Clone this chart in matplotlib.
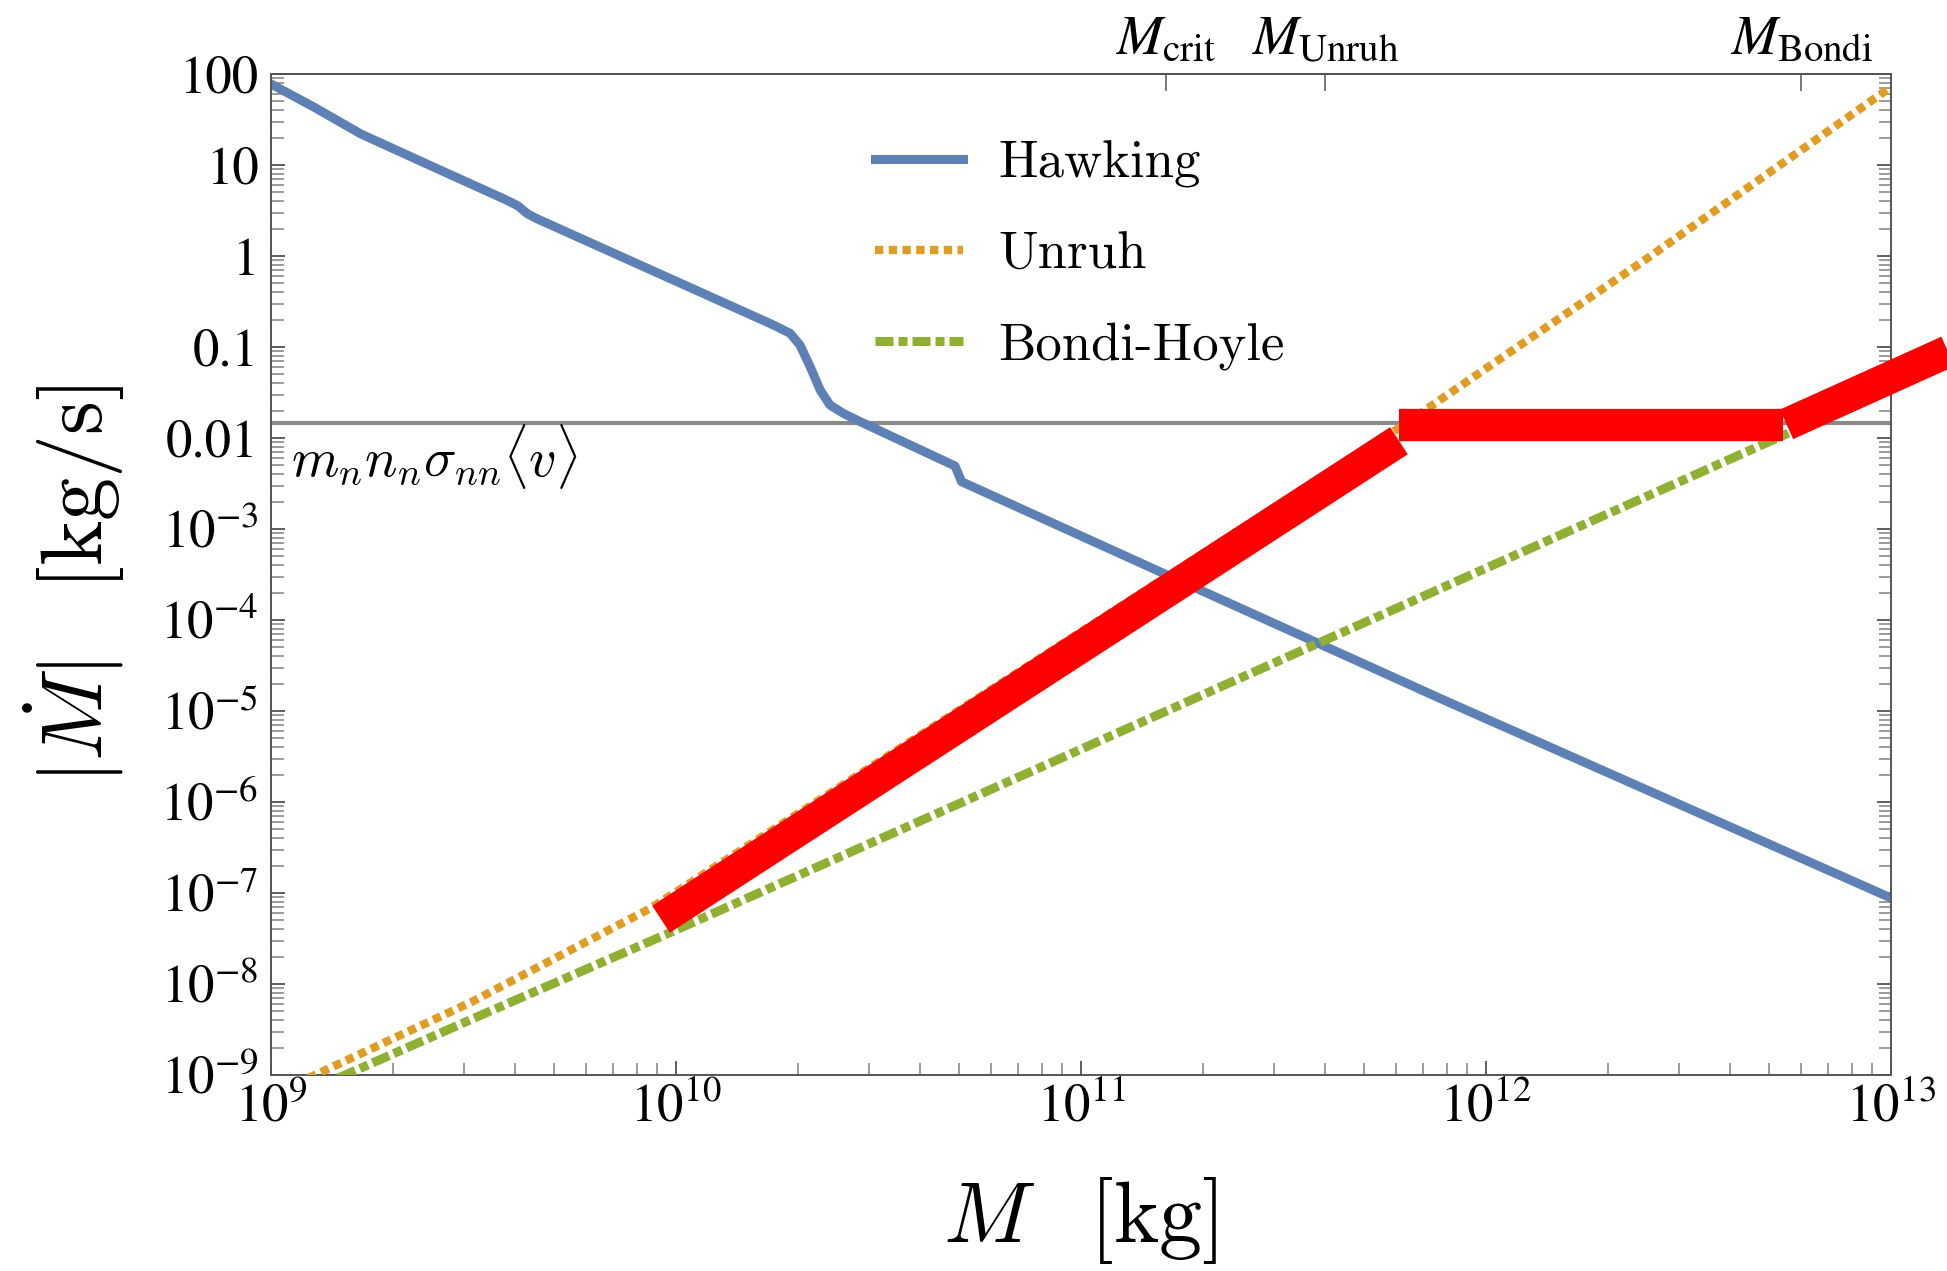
import numpy as np
import matplotlib
matplotlib.use("Agg")
import matplotlib.pyplot as plt
from matplotlib.font_manager import FontProperties
from matplotlib.ticker import FixedLocator, FixedFormatter, LogLocator, NullLocator, NullFormatter

plt.rcParams['mathtext.fontset'] = 'stix'
plt.rcParams['font.family'] = 'STIXGeneral'

# values (log10 of mass in kg, log10 of |Mdot| in kg/s)
hawking_logM = [9.0, 9.107, 9.222, 9.412, 9.576, 9.609, 9.634, 9.658, 10.235, 10.2815,
                10.306, 10.331, 10.356, 10.380, 10.413, 10.446, 10.689, 10.705, 11.294,
                11.911, 13.0]
hawking_logMdot = [1.89, 1.634, 1.341, 0.956, 0.626, 0.553, 0.462, 0.407, -0.747, -0.849,
                   -0.978, -1.215, -1.473, -1.637, -1.729, -1.802, -2.308, -2.48, -3.67,
                   -4.91, -7.055]

unruh_logM = [9.0, 9.099, 9.494, 9.938, 10.5, 11.0, 11.785, 12.4, 13.0]
unruh_logMdot = [-9.22, -9.02, -8.20, -7.165, -5.56, -4.13, -1.89, -0.02, 1.857]

bondi_logM = [9.0, 9.173, 9.494, 9.988, 11.0, 12.736, 13.0]
bondi_logMdot = [-9.36, -9.02, -8.39, -7.43, -5.42, -1.967, -1.44]

# thick red path, three separate pieces
red_logM = [[9.963, 11.785], [11.785, 12.733], [12.742, 13.2]]
red_logMdot = [[-7.288, -2.03], [-1.86, -1.86], [-1.85, -0.93]]

nn_rate = 0.0148   # m_n n_n sigma_nn <v>

top_ticks = [1.62e11, 4.0e11, 6.0e12]
top_labels = [r'$M_{\rm crit}$', r'$M_{\rm Unruh}$', r'$M_{\rm Bondi}$']

y_ticks = [10.0 ** k for k in range(-9, 3)]
y_labels = [r'$10^{-%d}$' % k for k in range(9, 2, -1)] + ['0.01', '0.1', '1', '10', '100']
x_ticks = [1e9, 1e10, 1e11, 1e12, 1e13]
x_labels = [r'$10^{9}$', r'$10^{10}$', r'$10^{11}$', r'$10^{12}$', r'$10^{13}$']

blue = '#5E81B5'
orange = '#E19C24'
green = '#8FB032'

fig = plt.figure(figsize=(19.47, 12.71), dpi=100)
ax = fig.add_axes([271 / 1947, 1 - 1075 / 1271, 1620 / 1947, 1001 / 1271])
ax.set_xscale('log')
ax.set_yscale('log')

ax.axhline(nn_rate, color='#8a8a8a', lw=3, zorder=1)
ax.plot(10 ** np.array(hawking_logM), 10 ** np.array(hawking_logMdot), color=blue, lw=6.5,
        solid_joinstyle='round', label='Hawking', zorder=2)
ax.plot(10 ** np.array(unruh_logM), 10 ** np.array(unruh_logMdot), color=orange, lw=6,
        dashes=(1.0, 0.65), label='Unruh', zorder=3)
ax.plot(10 ** np.array(bondi_logM), 10 ** np.array(bondi_logMdot), color=green, lw=6.5,
        dashes=(2.0, 0.55, 1.0, 0.55), label='Bondi-Hoyle', zorder=3)
for xs, ys in zip(red_logM, red_logMdot):
    ax.plot(10 ** np.array(xs), 10 ** np.array(ys), color='red', lw=23.3,
            solid_capstyle='butt', clip_on=False, zorder=5)

ax.set_xlim(1e9, 1e13)
ax.set_ylim(1e-9, 100)

ax.xaxis.set_major_locator(FixedLocator(x_ticks))
ax.xaxis.set_major_formatter(FixedFormatter(x_labels))
ax.xaxis.set_minor_locator(LogLocator(base=10, subs=np.arange(2, 10), numticks=100))
ax.xaxis.set_minor_formatter(NullFormatter())
ax.yaxis.set_major_locator(FixedLocator(y_ticks))
ax.yaxis.set_major_formatter(FixedFormatter(y_labels))
ax.yaxis.set_minor_locator(LogLocator(base=10, subs=np.arange(2, 10), numticks=100))
ax.yaxis.set_minor_formatter(NullFormatter())

ax.tick_params(which='both', direction='in', top=False, right=True, width=1.1)
ax.tick_params(which='major', length=10, color='#333333', labelsize=38)
ax.tick_params(which='minor', length=9, color='#808080')
ax.tick_params(axis='x', which='major', pad=7)
ax.tick_params(axis='y', which='major', pad=9)
for s in ax.spines.values():
    s.set_color('#555555')
    s.set_linewidth(1.4)

sec = ax.secondary_xaxis('top')
sec.set_xticks(top_ticks)
sec.set_xticklabels(top_labels)
sec.xaxis.set_minor_locator(NullLocator())
sec.tick_params(direction='in', length=12, width=1.1, color='#555555', labelsize=40, pad=6)
sec.spines['top'].set_color('#555555')
sec.spines['top'].set_linewidth(1.4)

leg = ax.legend(loc='upper left', bbox_to_anchor=(0.3728, 0.934), frameon=False,
                borderpad=0, borderaxespad=0, handlelength=1.67, handletextpad=0.66,
                labelspacing=0.83, prop=FontProperties(family='cmr10', size=38))

cm = FontProperties(size=39, math_fontfamily='cm')
fig.text(291 / 1947, 1 - 477 / 1271, r'$m_n n_n \sigma_{nn} \langle v \rangle$',
         fontproperties=cm, ha='left', va='baseline')

big = FontProperties(size=62, math_fontfamily='cm')
fig.text(1080 / 1947, 1 - 1220 / 1271, r'$M\;\;\;[\mathrm{kg}]$', fontproperties=big,
         ha='center', va='center')
fig.text(74.5 / 1947, 1 - 584 / 1271, r'$|\dot{M}|\;\;\;[\mathrm{kg/s}]$', fontproperties=big,
         ha='center', va='center', rotation=90)

fig.savefig('out.png', dpi=100)
